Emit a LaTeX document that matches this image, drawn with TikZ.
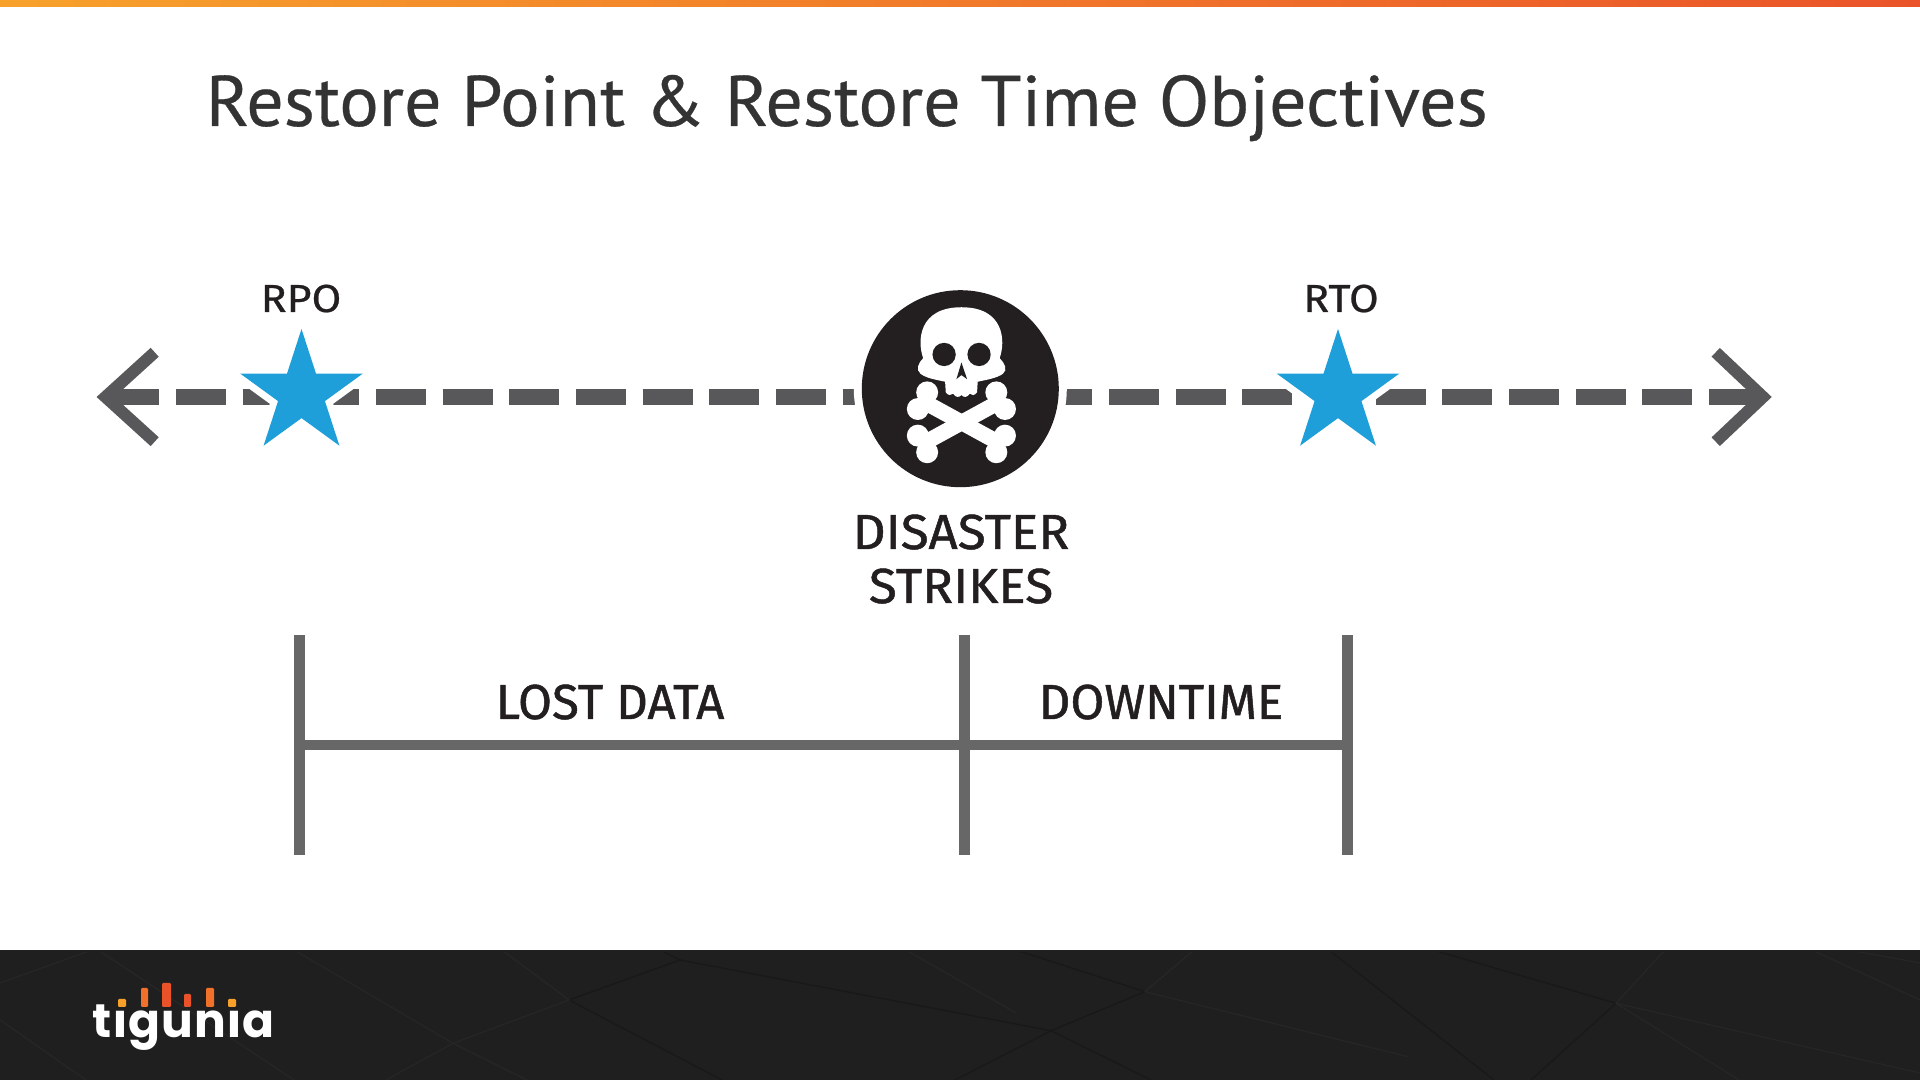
\documentclass[tikz,border=0pt]{standalone}
\usepackage{fontspec}
\usetikzlibrary{shapes.geometric}
\newfontfamily\titlefont[FakeStretch=1.032,FakeBold=.4]{PT Sans}
\newfontfamily\labelfont[FakeBold=1]{Fira Sans}
\newfontfamily\wordfont[FakeBold=1,FakeStretch=1.04]{Fira Sans}
\newfontfamily\tagfont[FakeBold=.6,FakeStretch=1.1]{Fira Sans}
\newfontfamily\logofont[LetterSpace=2.5]{Poppins}
\definecolor{inkgrey}{HTML}{231F20}
\definecolor{titlegrey}{HTML}{333333}
\definecolor{linegrey}{HTML}{58585A}
\definecolor{bargrey}{HTML}{676767}
\definecolor{starblue}{HTML}{1E9FDA}
\definecolor{footerdark}{HTML}{1F1F1F}
\definecolor{facetdark}{HTML}{262626}
\definecolor{facetblack}{HTML}{191919}
\definecolor{logoamber}{HTML}{F7A12B}
\definecolor{logoorange}{HTML}{F2712A}
\definecolor{logored}{HTML}{EA5329}
\tikzset{
  timeline/.style={draw=linegrey, line width=.16cm, dash pattern=on .5cm off .1665cm},
  barb/.style={draw=linegrey, line width=.12cm, miter limit=10},
  timebar/.style={draw=bargrey, line width=.11cm},
  spanbar/.style={draw=bargrey, line width=.10cm},
  objstar/.style={star, star points=5, star point ratio=2.618, minimum size=1.29cm, inner sep=0pt, outer sep=0pt, fill=starblue, preaction={draw=white, line width=.14cm, line join=round}},
  smalllabel/.style={anchor=base, inner sep=0pt, text=inkgrey, font=\tagfont\fontsize{11.1}{13}\selectfont},
  biglabel/.style={anchor=base, inner sep=0pt, text=inkgrey, font=\labelfont\fontsize{14}{17}\selectfont},
  wordlabel/.style={anchor=base, inner sep=0pt, text=inkgrey, font=\wordfont\fontsize{14}{17}\selectfont},
  facet/.style={draw=facetdark, line width=.012cm},
  facetb/.style={draw=facetblack, line width=.014cm},
  bone/.style={draw=white, line width=.155cm},
  level/.style={rounded corners=.012cm, fill=#1},
}
\begin{document}
\begin{tikzpicture}
\useasboundingbox (0,0) rectangle (19.2,10.8);

% top bar and footer
\shade[left color=logoamber, right color=logored] (0,10.733) rectangle (19.2,10.8);
\fill[footerdark] (0,0) rectangle (19.2,1.3);
\begin{scope}
\clip (0,0) rectangle (19.2,1.27);
\draw[facetb] (6.8,1.2) -- (10.51,.493) -- (9.55,0);
\draw[facetb] (6.6,1.3) -- (6.8,1.2) -- (5.69,.8) -- (7.22,0);
\draw[facet] (5.02,1.3) -- (5.69,.8) -- (4.53,.367) -- (3.86,0);
\draw[facet] (2.94,1.3) -- (4.53,.367) -- (5.27,0);
\draw[facetb] (10.51,.493) -- (11.45,.883) -- (10.16,1.3);
\draw[facetb] (10.51,.493) -- (11.51,0);
\draw[facet] (11.94,1.3) -- (11.45,.883) -- (14.08,.233);
\draw[facet] (9.06,1.3) -- (10.16,.67);
\draw[facetb] (13.29,1.3) -- (14.94,0);
\draw[facetb] (14.33,1.3) -- (16.16,.767) -- (15.31,0);
\draw[facet] (16.65,1.3) -- (16.16,.767) -- (17.39,0);
\draw[facet] (16.16,.767) -- (19.2,.07);
\draw[facet] (18.12,1.3) -- (19.2,.8);
\draw[facet] (18.49,1.3) -- (19.2,1.17);
\draw[facet] (.92,1.3) -- (0,.97);
\draw[facet] (.98,1.3) -- (2.94,0);
\draw[facet] (0,.6) -- (.86,0);
\end{scope}

% logo
\node[anchor=base west, inner sep=0pt, text=white, font=\logofont\bfseries\fontsize{13.4}{16}\selectfont] (logoword) at (.92,.42) {tigunia};
\fill[footerdark] (1.1,.71) rectangle (1.36,.9);
\fill[footerdark] (2.18,.71) rectangle (2.44,.9);
\path[level=logoamber] (1.18,.73) rectangle (1.26,.81);
\path[level=logoorange] (1.41,.73) rectangle (1.48,.92);
\path[level=logored] (1.62,.73) rectangle (1.71,.97);
\path[level=logored] (1.84,.73) rectangle (1.91,.86);
\path[level=logoorange] (2.06,.73) rectangle (2.14,.92);
\path[level=logoamber] (2.28,.73) rectangle (2.36,.81);

\coordinate (lineleft) at (1.0935,6.83);
\coordinate (lineright) at (17.63,6.83);
\coordinate (leftapex) at (1.055,6.83);
\coordinate (lefttop) at (1.547,7.277);
\coordinate (leftbot) at (1.547,6.383);
\coordinate (rightapex) at (17.63,6.83);
\coordinate (righttop) at (17.157,7.277);
\coordinate (rightbot) at (17.157,6.383);

\draw[timeline] (lineleft) -- (lineright);
\draw[barb] (lefttop) -- (leftapex) -- (leftbot);
\draw[barb] (righttop) -- (rightapex) -- (rightbot);

\node[objstar] (rpostar) at (3.015,6.865) {};
\node[objstar] (rtostar) at (13.38,6.865) {};
\node[circle, minimum size=1.97cm, inner sep=0pt, outer sep=0pt, fill=inkgrey, preaction={draw=white, line width=.16cm}] (disaster) at (9.603,6.913) {};

% skull, in units of a third of a pixel
\begin{scope}[shift={(8.4,8.1)}, x=.0033333cm, y=-.0033333cm]
\fill[white] (250,265) .. controls (232,215) and (235,112) .. (365,112) .. controls (495,112) and (498,215) .. (480,265) .. controls (495,280) and (505,300) .. (490,312) .. controls (470,326) and (440,330) .. (414,336) -- (412,368) .. controls (405,378) and (395,378) .. (390,372) .. controls (382,384) and (372,384) .. (365,376) .. controls (358,384) and (348,384) .. (340,372) .. controls (335,378) and (325,378) .. (318,368) -- (316,336) .. controls (290,330) and (260,326) .. (242,312) .. controls (227,300) and (235,280) .. (250,265) -- cycle;
\fill[inkgrey] (313,254) circle (35);
\fill[inkgrey] (418,254) circle (35);
\fill[inkgrey] (365,278) -- (350,328) -- (365,316) -- (382,328) -- cycle;
\fill[white] (262,368) circle (33);
\fill[white] (234,418) circle (33);
\fill[white] (496,498) circle (33);
\fill[white] (470,548) circle (33);
\fill[white] (470,368) circle (33);
\fill[white] (496,418) circle (33);
\fill[white] (234,498) circle (33);
\fill[white] (262,548) circle (33);
\draw[bone] (250,395) -- (482,522);
\draw[bone] (482,395) -- (250,522);
\end{scope}

% labels
\node[smalllabel] (rpolabel) at (3.01,7.68) {RPO};
\node[smalllabel] (rtolabel) at (13.41,7.68) {RTO};
\node[wordlabel] (disasterlabel) at (9.61,5.31) {DISASTER};
\node[wordlabel] (strikeslabel) at (9.61,4.77) {STRIKES};
\node[biglabel] (lostlabel) at (6.10,3.61) {LOST DATA};
\node[biglabel] (downlabel) at (11.61,3.61) {DOWNTIME};
\node[anchor=base west, inner sep=0pt, text=titlegrey, font=\titlefont\fontsize{20.4}{24}\selectfont] (title) at (2.05,9.54) {Restore Point \& Restore Time Objectives};

% spans
\coordinate (rpotop) at (2.995,4.45);
\coordinate (rpobot) at (2.995,2.25);
\coordinate (midtop) at (9.64,4.45);
\coordinate (midbot) at (9.64,2.25);
\coordinate (rtotop) at (13.47,4.45);
\coordinate (rtobot) at (13.47,2.25);
\coordinate (spanleft) at (2.995,3.35);
\coordinate (spanright) at (13.47,3.35);
\draw[timebar] (rpotop) -- (rpobot);
\draw[timebar] (midtop) -- (midbot);
\draw[timebar] (rtotop) -- (rtobot);
\draw[spanbar] (spanleft) -- (spanright);
\end{tikzpicture}
\end{document}
